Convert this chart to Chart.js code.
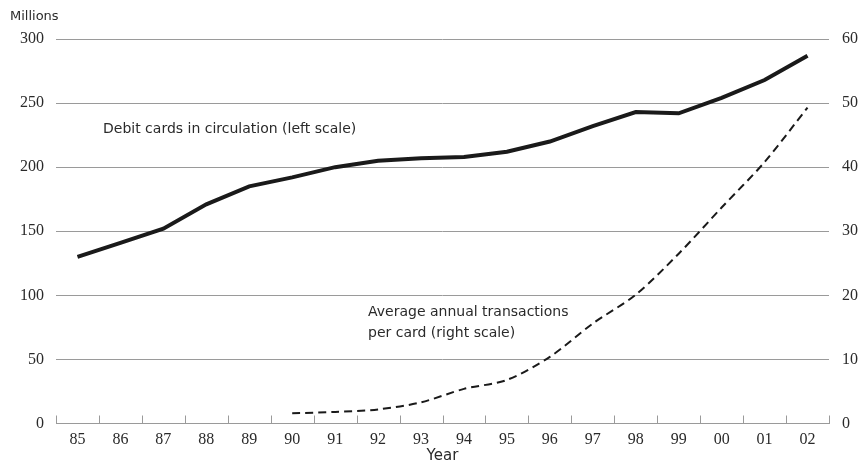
<!DOCTYPE html>
<html>
<head>
<meta charset="utf-8">
<script src="https://cdn.jsdelivr.net/npm/chart.js@4.4.1/dist/chart.umd.min.js"></script>
<style>
html,body{margin:0;padding:0;background:#fff;}
#wrap{position:relative;width:863px;height:467px;}
</style>
</head>
<body>
<div id="wrap"><canvas id="c"></canvas></div>
<script>
const years = ['85','86','87','88','89','90','91','92','93','94','95','96','97','98','99','00','01','02'];
const debitCards = [130,141,152,171,185,192,200,205,207,208,212,220,232,243,242,254,268,287];
const transactionsPerCard = [null,null,null,null,null,1.6,1.8,2.2,3.3,5.4,6.8,10.4,15.6,20.1,26.5,33.7,40.8,49.3];
const leftTicks = [0,50,100,150,200,250,300];
const rightTicks = [0,10,20,30,40,50,60];

const SANS = '"DejaVu Sans", sans-serif';
const SERIF = '"Liberation Serif", serif';
const TEXT = '#2a2a2a';
const GRID = '#9a9a9a';

const overlay = {
  id: 'overlay',
  afterDatasetsDraw(chart) {
    const ctx = chart.ctx;
    const x = chart.scales.x;
    const area = chart.chartArea;
    ctx.save();
    // inward tick marks on category boundaries
    ctx.strokeStyle = GRID;
    ctx.lineWidth = 1;
    ctx.beginPath();
    for (let i = 0; i <= years.length; i++) {
      let px;
      if (i === 0) px = area.left;
      else if (i === years.length) px = area.right;
      else px = (x.getPixelForValue(i - 1) + x.getPixelForValue(i)) / 2;
      px = Math.round(px) + 0.5;
      ctx.moveTo(px, area.bottom);
      ctx.lineTo(px, area.bottom - 8);
    }
    ctx.stroke();
    // text annotations
    ctx.fillStyle = TEXT;
    ctx.textBaseline = 'middle';
    ctx.textAlign = 'left';
    ctx.font = '13px ' + SANS;
    ctx.fillText('Millions', 10, 17);
    ctx.font = '14px ' + SANS;
    ctx.fillText('Debit cards in circulation (left scale)', 103, 129);
    ctx.fillText('Average annual transactions', 368, 312);
    ctx.fillText('per card (right scale)', 368, 333);
    ctx.restore();
  }
};

new Chart(document.getElementById('c'), {
  type: 'line',
  data: {
    labels: years,
    datasets: [
      {
        label: 'Debit cards in circulation (left scale)',
        data: debitCards,
        yAxisID: 'y',
        borderColor: '#1a1a1a',
        borderWidth: 4,
        pointRadius: 0,
        tension: 0,
        fill: false
      },
      {
        label: 'Average annual transactions per card (right scale)',
        data: transactionsPerCard,
        yAxisID: 'y1',
        borderColor: '#1a1a1a',
        borderWidth: 2,
        borderDash: [8, 5],
        pointRadius: 0,
        tension: 0.3,
        fill: false
      }
    ]
  },
  options: {
    responsive: true,
    maintainAspectRatio: false,
    animation: false,
    layout: { padding: { top: 39, bottom: 0, left: 0, right: 0 } },
    plugins: { legend: { display: false }, tooltip: { enabled: false } },
    scales: {
      x: {
        offset: true,
        grid: { display: false, drawTicks: false },
        border: { display: true, color: GRID, width: 1 },
        ticks: { color: TEXT, font: { family: SERIF, size: 16 }, padding: 7, maxRotation: 0, autoSkip: false },
        title: { display: true, text: 'Year', color: TEXT, font: { family: SANS, size: 15 }, padding: { top: 0, bottom: 2 } },
        afterFit(s) { s.height = 43.5; }
      },
      y: {
        position: 'left',
        min: 0, max: 300,
        afterBuildTicks(s) { s.ticks = leftTicks.map(v => ({ value: v })); },
        grid: { color: GRID, lineWidth: 1, drawTicks: false },
        border: { display: false },
        ticks: { color: TEXT, font: { family: SERIF, size: 16 }, padding: 12 },
        afterFit(s) { s.width = 56; }
      },
      y1: {
        position: 'right',
        min: 0, max: 60,
        afterBuildTicks(s) { s.ticks = rightTicks.map(v => ({ value: v })); },
        grid: { display: false, drawTicks: false },
        border: { display: false },
        ticks: { color: TEXT, font: { family: SERIF, size: 16 }, padding: 13 },
        afterFit(s) { s.width = 34; }
      }
    }
  },
  plugins: [overlay]
});
</script>
</body>
</html>
